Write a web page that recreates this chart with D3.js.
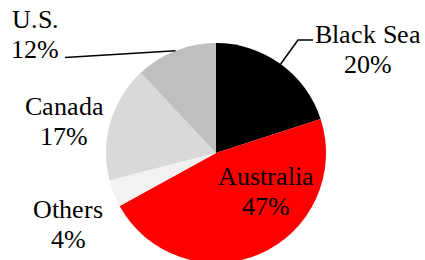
<!DOCTYPE html>
<html>
<head>
<meta charset="utf-8">
<script src="https://cdn.jsdelivr.net/npm/d3@7"></script>
<style>
  @font-face { font-family: "LabelSerif"; src: local("Liberation Serif"), local("LiberationSerif"), local("LiberationSerif-Regular"); }
  body { margin: 0; background: #fff; }
</style>
</head>
<body>
<svg id="chart" width="425" height="260"></svg>
<script>
// data, clockwise from 12 o'clock
var regions = ["Black Sea", "Australia", "Others", "Canada", "U.S."];
var shares = [20, 47, 4, 17, 12];
var colors = ["#000000", "#ff0000", "#f2f2f2", "#d9d9d9", "#bfbfbf"];

var width = 425, height = 260;
var cx = 216, cy = 153, radius = 110;
var serif = "LabelSerif, 'Liberation Serif', 'Times New Roman', 'DejaVu Serif', serif";

// label anchor (centre of the two lines) for each slice
var labelAt = [[368, 48], [266, 190], [68, 223], [64, 120], [35, 33]];

var svg = d3.select("#chart");
var g = svg.append("g").attr("transform", "translate(" + cx + "," + cy + ")");

var pie = d3.pie().sort(null).value(function (d) { return d; });
var arc = d3.arc().innerRadius(0).outerRadius(radius);
var arcs = pie(shares);

g.selectAll("path.slice")
  .data(arcs)
  .enter()
  .append("path")
  .attr("class", "slice")
  .attr("d", arc)
  .style("fill", function (d, i) { return colors[i]; });

// leader lines for the outside labels
function edge(d, f) {
  var a = d.startAngle + (d.endAngle - d.startAngle) * f;
  return [cx + radius * Math.sin(a), cy - radius * Math.cos(a)];
}
var bs = edge(arcs[0], 0.5);
var us = edge(arcs[4], 0.5);
var line = d3.line();
svg.append("path")
  .attr("d", line([[313, 40], [298, 40], bs]))
  .style("fill", "none").style("stroke", "#000").style("stroke-width", 1.5);
svg.append("path")
  .attr("d", line([[65, 57.5], us]))
  .style("fill", "none").style("stroke", "#000").style("stroke-width", 1.5);

// two text lines per slice: name, then share
function addLine(cls, dy, txt) {
  svg.selectAll("text." + cls)
    .data(arcs)
    .enter()
    .append("text")
    .attr("class", cls)
    .attr("x", function (d, i) { return labelAt[i][0]; })
    .attr("y", function (d, i) { return labelAt[i][1] + dy; })
    .attr("text-anchor", "middle")
    .style("font-family", serif)
    .style("font-size", "26px")
    .style("fill", "#000")
    .text(txt);
}
addLine("name", -5, function (d, i) { return regions[i]; });
addLine("pct", 25, function (d) { return d.data + "%"; });
</script>
</body>
</html>
